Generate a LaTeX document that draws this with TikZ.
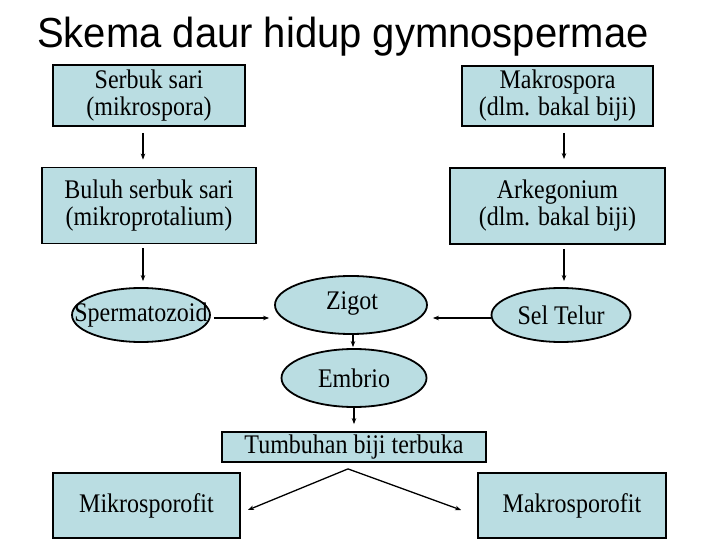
\documentclass[tikz,border=0pt]{standalone}
\usepackage{graphicx}
\usepackage{fontspec}
\setmainfont{Liberation Serif}
\newfontfamily\titlefont{Liberation Sans}
\usetikzlibrary{shapes.geometric,arrows.meta,calc}
\definecolor{boxfill}{RGB}{186,221,226}
\newcommand\tl[1]{\scalebox{1}[1.12]{#1}}
\tikzset{
  body/.style={font=\fontsize{24}{27}\selectfont},
  rbox/.style={draw=black,line width=1.8pt,fill=boxfill,rectangle,inner sep=0pt,align=center,body},
  ell/.style={draw=black,line width=1.8pt,fill=boxfill,ellipse,inner sep=0pt},
  txt/.style={body,inner sep=0pt},
  arr/.style={line width=1.3pt,-{Stealth[length=6pt,width=4.5pt]}},
}
\begin{document}
\begin{tikzpicture}[x=1pt,y=-1pt]
\useasboundingbox (0,0) rectangle (720,540);
\node[anchor=base west,inner sep=0pt,font=\titlefont\fontsize{40}{46}\selectfont] (title) at (37,48) {\scalebox{1}[1.05]{Skema daur hidup gymnospermae}};
% top boxes
\node[rbox,minimum width=192pt,minimum height=61pt] (ser) at (149,95.5) {\tl{Serbuk sari}\\\tl{(mikrospora)}};
\node[rbox,minimum width=191pt,minimum height=60pt] (mak) at (557.5,96) {\tl{Makrospora}\\\tl{(dlm. bakal biji)}};
\node[rbox,minimum width=214pt,minimum height=76pt] (bul) at (149,205.5) {\tl{Buluh serbuk sari}\\\tl{(mikroprotalium)}};
\node[rbox,minimum width=215pt,minimum height=76pt] (ark) at (557.5,206) {\tl{Arkegonium}\\\tl{(dlm. bakal biji)}};
% ellipses
\node[ell,minimum width=138pt,minimum height=54pt] (sp) at (141,315) {};
\node[txt] (sptxt) at (sp) {\tl{Spermatozoid}};
\node[ell,minimum width=152pt,minimum height=58pt] (zig) at (351,305) {};
\node[txt] (zigtxt) at (352,304) {\tl{Zigot}};
\node[ell,minimum width=139pt,minimum height=54pt] (st) at (561,315) {};
\node[txt] (sttxt) at (st) {\tl{Sel Telur}};
\node[ell,minimum width=145pt,minimum height=58pt] (emb) at (354,378) {};
\node[txt] (embtxt) at (emb) {\tl{Embrio}};
% lower boxes
\node[rbox,minimum width=264pt,minimum height=30pt] (tb) at (354,447) {\tl{Tumbuhan biji terbuka}};
\node[rbox,minimum width=187pt,minimum height=65pt] (mik) at (146.5,505.5) {\tl{Mikrosporofit}};
\node[rbox,minimum width=188pt,minimum height=65pt] (mks) at (572,505.5) {\tl{Makrosporofit}};
% connectors
\draw[arr,shorten <=6pt,shorten >=7pt] ([xshift=-6pt]ser.south) -- ([xshift=-6pt]bul.north);
\draw[arr,shorten <=6pt,shorten >=8pt] ([xshift=6.5pt]mak.south) -- ([xshift=6.5pt]ark.north);
\draw[arr,shorten <=4pt,shorten >=6pt] ([xshift=-6pt]bul.south) -- ([xshift=-6pt]bul.south |- sp.north);
\draw[arr,shorten <=4pt,shorten >=6pt] ([xshift=6.5pt]ark.south) -- ([xshift=6.5pt]ark.south |- st.north);
\draw[arr,shorten <=3pt,shorten >=5pt] ([yshift=-3pt]sp.east) -- ([yshift=-3pt]sp.east -| zig.west);
\draw[arr,shorten >=5pt] ([yshift=-3pt]st.west) -- ([yshift=-3pt]st.west -| zig.east);
\draw[arr,shorten >=1pt] ([xshift=2pt]zig.south) -- ([xshift=2pt]zig.south |- emb.north);
\draw[arr,shorten >=7pt] (emb.south) -- (emb.south |- tb.north);
\coordinate (apex) at ($(tb.south)+(-6,6)$);
\draw[arr] (apex) -- ($(mik.east)+(7,4.5)$);
\draw[arr] (apex) -- ($(mks.west)+(-16,4.5)$);
\end{tikzpicture}
\end{document}
